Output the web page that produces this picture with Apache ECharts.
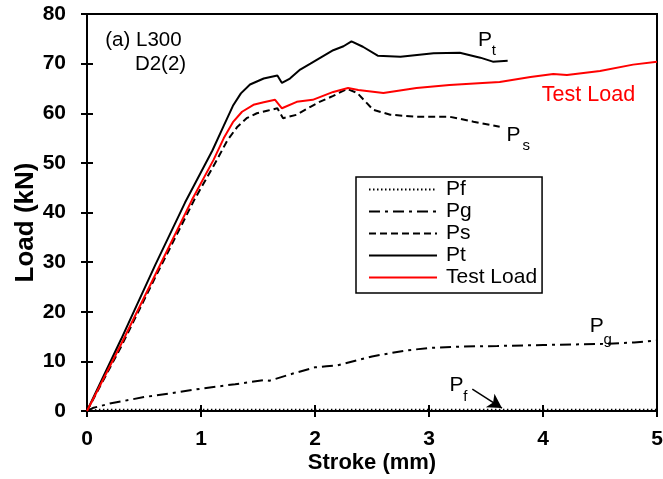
<!DOCTYPE html>
<html>
<head>
<meta charset="utf-8">
<script src="https://cdn.jsdelivr.net/npm/echarts@6/dist/echarts.min.js"></script>
<style>
  html, body { margin: 0; padding: 0; background: #fff; }
  #chart { width: 663px; height: 479px; }
</style>
</head>
<body>
<div id="chart"></div>
<script>
// Stroke (mm) / load (kN) readings for each component
const ptStroke = [0, 0.3, 0.6, 0.86, 1.1, 1.2, 1.28, 1.35, 1.43, 1.55, 1.67, 1.71, 1.78, 1.87, 1.96, 2.16, 2.25, 2.32, 2.42, 2.55, 2.75, 3.04, 3.27, 3.45, 3.56, 3.69];
const ptLoad   = [0, 14.5, 29.5, 42, 52.5, 57.5, 61.5, 64, 65.8, 67, 67.6, 66.1, 67, 68.8, 70, 72.7, 73.5, 74.5, 73.4, 71.6, 71.4, 72.1, 72.2, 71.2, 70.4, 70.6];

const testStroke = [0, 0.3, 0.6, 0.92, 1.11, 1.2, 1.28, 1.36, 1.46, 1.55, 1.65, 1.71, 1.84, 1.98, 2.16, 2.29, 2.38, 2.6, 2.89, 3.18, 3.47, 3.62, 3.89, 4.09, 4.21, 4.5, 4.79, 5];
const testLoad   = [0, 13.5, 27.5, 42.5, 50.6, 55, 58.2, 60.3, 61.7, 62.2, 62.7, 61, 62.3, 62.7, 64.3, 65.1, 64.7, 64.1, 65.1, 65.7, 66.1, 66.3, 67.3, 67.9, 67.7, 68.5, 69.8, 70.4];

const psStroke = [0, 0.3, 0.6, 0.94, 1.14, 1.23, 1.32, 1.4, 1.49, 1.58, 1.67, 1.72, 1.84, 1.96, 2.04, 2.16, 2.28, 2.37, 2.51, 2.66, 2.89, 3.18, 3.39, 3.62];
const psLoad   = [0, 13, 27, 42.5, 50.6, 54.5, 57.3, 59, 60, 60.5, 61, 59, 59.7, 61.3, 62.3, 63.5, 64.9, 64.1, 60.7, 59.7, 59.3, 59.3, 58.3, 57.3];

const pgStroke = [0, 0.05, 0.2, 0.5, 0.8, 1.0, 1.3, 1.55, 1.6, 1.8, 2.0, 2.1, 2.2, 2.5, 2.8, 3.0, 3.3, 3.6, 4.0, 4.5, 4.8, 5.0];
const pgLoad   = [0, 0.6, 1.5, 2.8, 3.8, 4.5, 5.4, 6.2, 6.1, 7.5, 8.8, 9.0, 9.2, 11.0, 12.2, 12.7, 13.0, 13.1, 13.3, 13.5, 13.8, 14.2];

const pfStroke = [0, 0.1, 1, 2, 3, 4, 5];
const pfLoad   = [0, 0.3, 0.3, 0.3, 0.3, 0.3, 0.3];

const xTicks = [0, 1, 2, 3, 4, 5];
const yTicks = [0, 10, 20, 30, 40, 50, 60, 70, 80];

// Text notes placed in data coordinates: [stroke, load, text, size, colour]
const notes = [
  [0.16, 74.7, '(a) L300', 20.5, '#000'],
  [0.42, 69.8, 'D2(2)', 20.5, '#000'],
  [3.43, 74.8, 'P', 21, '#000'],
  [3.55, 72.6, 't', 15, '#000'],
  [3.68, 55.6, 'P', 21, '#000'],
  [3.82, 53.4, 's', 15, '#000'],
  [3.99, 63.7, 'Test Load', 21.5, '#ff0000'],
  [4.41, 17.0, 'P', 21, '#000'],
  [4.53, 14.4, 'g', 15, '#000'],
  [3.18, 5.2, 'P', 21, '#000'],
  [3.30, 2.8, 'f', 15, '#000']
];
const pfArrow = [[3.38, 4.4], [3.64, 0.6]];

const zip = (xs, ys) => xs.map((x, i) => [x, ys[i]]);
const FONT = '"Liberation Sans", Arial, sans-serif';

const baseX = {
  type: 'value', min: xTicks[0], max: xTicks[xTicks.length - 1], interval: 1,
  position: 'bottom', splitLine: { show: false },
  axisLine: { onZero: false, lineStyle: { color: '#000', width: 2 } }
};
const baseY = {
  type: 'value', min: yTicks[0], max: yTicks[yTicks.length - 1], interval: 10,
  position: 'left', splitLine: { show: false },
  axisLine: { onZero: false, lineStyle: { color: '#000', width: 2 } }
};

const lineSeries = (name, xs, ys, color, width, type) => ({
  name, type: 'line', data: zip(xs, ys), symbol: 'none', showSymbol: false, smooth: false,
  lineStyle: { color, width, type }, itemStyle: { color }, z: 3
});

const chart = echarts.init(document.getElementById('chart'), null, { renderer: 'canvas' });
chart.setOption({
  animation: false,
  backgroundColor: '#fff',
  grid: { left: 87, right: 6, top: 14, bottom: 68, containLabel: false, outerBoundsMode: 'none',
    show: true, borderColor: '#000', borderWidth: 2, backgroundColor: 'transparent' },
  xAxis: [
    Object.assign({}, baseX, {
      name: 'Stroke (mm)', nameLocation: 'middle', nameGap: 41, nameMoveOverlap: false,
      nameTextStyle: { fontFamily: FONT, fontSize: 22, fontWeight: 'bold', color: '#000' },
      axisTick: { inside: false, length: 6, lineStyle: { color: '#000', width: 2 } },
      axisLabel: { margin: 18, fontFamily: FONT, fontSize: 21, fontWeight: 'bold', color: '#000',
        formatter: v => xTicks.includes(v) ? String(v) : '' }
    }),
    Object.assign({}, baseX, {
      axisTick: { inside: true, length: 6, lineStyle: { color: '#000', width: 2 } },
      axisLabel: { show: false }
    })
  ],
  yAxis: [
    Object.assign({}, baseY, {
      name: 'Load (kN)', nameLocation: 'middle', nameGap: 48, nameRotate: 90, nameMoveOverlap: false,
      nameTextStyle: { fontFamily: FONT, fontSize: 26, fontWeight: 'bold', color: '#000', padding: [0, 20, 0, 0] },
      axisTick: { inside: false, length: 6, lineStyle: { color: '#000', width: 2 } },
      axisLabel: { margin: 21, fontFamily: FONT, fontSize: 21, fontWeight: 'bold', color: '#000',
        formatter: v => yTicks.includes(v) ? String(v) : '' }
    }),
    Object.assign({}, baseY, {
      axisTick: { inside: true, length: 6, lineStyle: { color: '#000', width: 2 } },
      axisLabel: { show: false }
    })
  ],
  legend: {
    orient: 'vertical', left: 356, top: 177,
    data: ['Pf', 'Pg', 'Ps', 'Pt', 'Test Load'],
    itemWidth: 68, itemHeight: 12, itemGap: 1,
    padding: [2, 5, 5, 12],
    itemStyle: { opacity: 0 },
    borderColor: '#000', borderWidth: 1.5, backgroundColor: '#fff',
    textStyle: { fontFamily: FONT, fontSize: 21, color: '#000', padding: [0, 0, 0, 4] }
  },
  series: [
    lineSeries('Pf', pfStroke, pfLoad, '#000', 1.5, [1.5, 2.5]),
    lineSeries('Pg', pgStroke, pgLoad, '#000', 2, [11, 5, 3, 5]),
    lineSeries('Ps', psStroke, psLoad, '#000', 2, [7, 4]),
    lineSeries('Pt', ptStroke, ptLoad, '#000', 2),
    lineSeries('Test Load', testStroke, testLoad, '#ff0000', 2),
    {
      name: 'notes', type: 'scatter', symbolSize: 0, silent: true, z: 5,
      itemStyle: { opacity: 1 },
      data: notes.map(n => ({ value: [n[0], n[1]], label: { formatter: n[2], fontSize: n[3], color: n[4] } })),
      label: { show: true, position: 'right', distance: 0, fontFamily: FONT, align: 'left', verticalAlign: 'middle',
        textBorderWidth: 0, opacity: 1 }
    },
    {
      name: 'arrow', type: 'line', data: [], symbol: 'none', silent: true,
      markLine: {
        silent: true, symbol: ['none', 'arrow'], symbolSize: [12, 14],
        label: { show: false },
        lineStyle: { color: '#000', width: 1.5, type: 'solid' },
        data: [[{ coord: pfArrow[0] }, { coord: pfArrow[1] }]]
      }
    }
  ]
});
</script>
</body>
</html>
